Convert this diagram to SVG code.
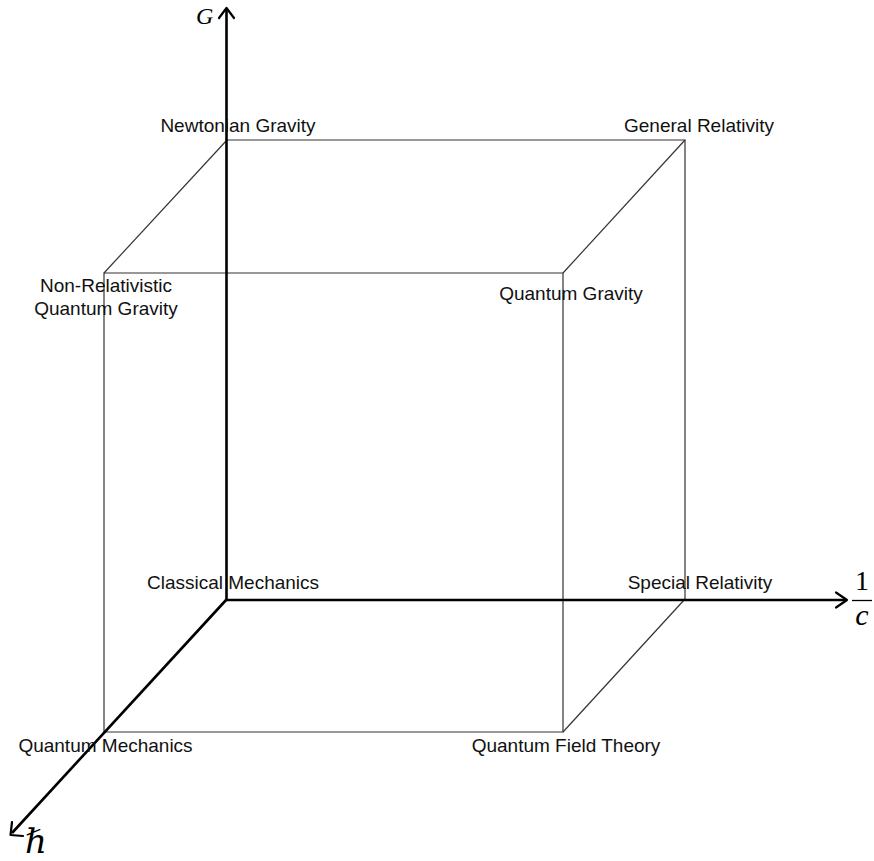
<svg xmlns="http://www.w3.org/2000/svg" width="874" height="861" viewBox="0 0 874 861">
<style>
.edge{stroke:#333;stroke-width:1.2;fill:none}
.axis{stroke:#000;stroke-width:2.6;fill:none}
.head{stroke:#000;stroke-width:2.2;fill:none;stroke-linecap:round;stroke-linejoin:round}
.lbl{font-family:"Liberation Sans",Arial,sans-serif;font-size:19px;fill:#111;text-anchor:middle}
.math{font-family:"Liberation Serif","DejaVu Serif",serif;fill:#000}
</style>
<rect width="874" height="861" fill="#fff"/>
<g id="connectors">
<path class="edge" d="M227,140 H685 V599"/>
<path class="edge" d="M104,273 H563 V732 H104 Z"/>
<path class="edge" d="M227,140 L104,273"/>
<path class="edge" d="M685,140 L563,273"/>
<path class="edge" d="M685,599 L563,732"/>
<g id="axes">
<line class="axis" x1="226.5" y1="600" x2="226.5" y2="9"/>
<path class="head" d="M219,18 L226.5,8 L234,18"/>
<line class="axis" x1="226" y1="600" x2="846" y2="600"/>
<path class="head" d="M836,592.5 L847,600 L836,607.5"/>
<line class="axis" x1="227" y1="599" x2="12" y2="833"/>
<path class="head" d="M12,822 L10.5,835 L23,836"/>
</g>
</g>
<g id="node-newtonian"><text class="lbl" x="238" y="132">Newtonian Gravity</text></g>
<g id="node-gr"><text class="lbl" x="699" y="132">General Relativity</text></g>
<g id="node-nrqg"><text class="lbl" x="106" y="292">Non-Relativistic</text><text class="lbl" x="106" y="315">Quantum Gravity</text></g>
<g id="node-qg"><text class="lbl" x="571" y="300">Quantum Gravity</text></g>
<g id="node-cm"><text class="lbl" x="233" y="589">Classical Mechanics</text></g>
<g id="node-sr"><text class="lbl" x="700" y="589">Special Relativity</text></g>
<g id="node-qm"><text class="lbl" x="105.5" y="752">Quantum Mechanics</text></g>
<g id="node-qft"><text class="lbl" x="566" y="752">Quantum Field Theory</text></g>
<g id="axis-labels">
<text class="math" x="196" y="24" font-size="24" font-style="italic">G</text>
<text class="math" x="862" y="590" font-size="28" text-anchor="middle">1</text>
<line x1="852" y1="600.5" x2="872" y2="600.5" stroke="#000" stroke-width="1.3"/>
<text class="math" x="862" y="625" font-size="30" font-style="italic" text-anchor="middle">c</text>
<text class="math" x="25" y="853" font-size="34" font-style="italic">ℏ</text>
</g>
</svg>
